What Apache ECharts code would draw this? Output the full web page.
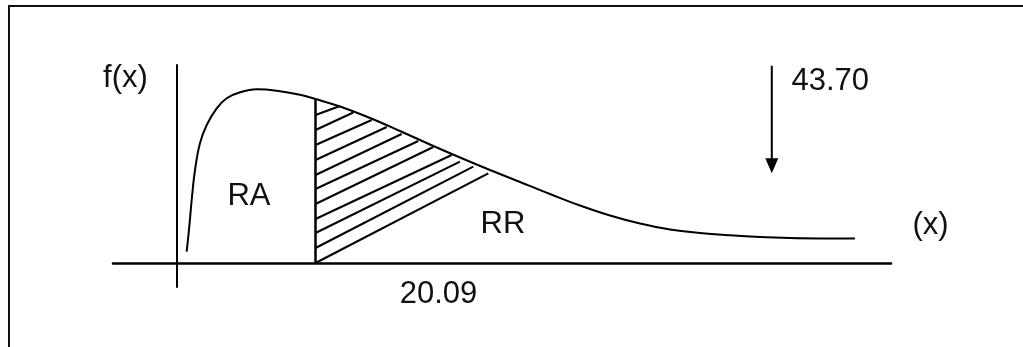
<!DOCTYPE html>
<html>
<head>
<meta charset="utf-8">
<script src="https://cdn.jsdelivr.net/npm/echarts@6/dist/echarts.min.js"></script>
<style>
  html, body { margin: 0; padding: 0; background: #fff; }
  #chart { width: 1023px; height: 347px; }
</style>
</head>
<body>
<div id="chart"></div>
<script>
// ---- Data (schematic chi-square density, x in chi-square units, y in arbitrary height units) ----
const curveX = [1.39, 1.77, 2.12, 2.60, 3.32, 4.30, 5.75, 7.20, 9.13, 11.55, 14.45, 17.83, 20.09,
                23.64, 28.00, 32.35, 36.70, 41.05, 45.41, 49.76, 54.11, 58.47, 62.82, 67.18,
                71.53, 75.88, 80.24, 84.59, 88.94, 93.30, 98.37];
const curveY = [11.3, 36.3, 63, 93, 119.7, 138, 154.7, 164.7, 170.7, 173.7, 172.3, 168.3, 164,
                156.5, 145, 132, 118.5, 105.5, 93, 81, 69, 57.5, 47.5, 39.5,
                33.5, 30, 27.7, 26, 25, 24.6, 24.5];

const criticalValue = 20.09;      // left edge of the shaded area
const criticalHeight = 164;       // f(x) at the critical value
const arrowValue = 86.3;          // position of the 43.70 arrow
const arrowTop = 197.3;
const arrowTip = 89.7;

// hatch lines: start on the critical line, end on/near the curve
const hatchStartY = [148, 133, 118, 103, 88, 74, 59, 44, 30, 15, 0];
const hatchEndX   = [23.64, 25.57, 28.24, 30.42, 32.59, 35.00, 37.18, 39.85, 41.05, 42.98, 45.16];
const hatchEndY   = [157, 150.5, 143, 136, 129, 122, 116, 108, 101.3, 96.3, 89.7];

const labelTexts = { fx: 'f(x)', x: '(x)', ra: 'RA', rr: 'RR', crit: '20.09', upper: '43.70' };

// ---- Build ----
const chart = echarts.init(document.getElementById('chart'), null, { renderer: 'canvas' });
const FONT = '31px "Liberation Sans", Arial, sans-serif';
const INK = '#000';

const curveData = curveX.map((x, i) => [x, curveY[i]]);
const hatchData = hatchStartY.map((y, i) => ({ coords: [[criticalValue, y], [hatchEndX[i], hatchEndY[i]]] }));
hatchData.push({ coords: [[criticalValue, 0], [criticalValue, criticalHeight]], lineStyle: { width: 2.5 } });

function txt(text, x, y, align) {
  return {
    type: 'text', x: x, y: y, silent: true,
    style: { text: text, font: FONT, fill: '#111', align: align || 'center', textAlign: align || 'center',
             verticalAlign: 'middle', textVerticalAlign: 'middle' }
  };
}

const option = {
  animation: false,
  backgroundColor: '#fff',
  grid: { left: 113, right: 132, top: 65, bottom: 60, containLabel: false },
  xAxis: {
    type: 'value', min: -9.3, max: 103.6,
    axisLine: { show: true, onZero: true, lineStyle: { color: INK, width: 2.5 } },
    axisTick: { show: false }, axisLabel: { show: false }, splitLine: { show: false }
  },
  yAxis: {
    type: 'value', min: -24, max: 198,
    axisLine: { show: true, onZero: true, lineStyle: { color: INK, width: 2 } },
    axisTick: { show: false }, axisLabel: { show: false }, splitLine: { show: false }
  },
  series: [
    {
      type: 'line', data: curveData, showSymbol: false, smooth: 0.4,
      lineStyle: { color: INK, width: 2 }, silent: true, z: 3
    },
    {
      type: 'lines', coordinateSystem: 'cartesian2d', polyline: false, data: hatchData,
      lineStyle: { color: INK, width: 2, opacity: 1 }, silent: true, z: 2
    },
    {
      type: 'custom', data: [[arrowValue, arrowTop, arrowTip]], silent: true, z: 4,
      renderItem: function (params, api) {
        const top = api.coord([api.value(0), api.value(1)]);
        const tip = api.coord([api.value(0), api.value(2)]);
        const headH = 15, headW = 13;
        return {
          type: 'group',
          children: [
            { type: 'line', shape: { x1: top[0], y1: top[1], x2: tip[0], y2: tip[1] - headH + 2 },
              style: { stroke: INK, lineWidth: 2 } },
            { type: 'polygon', shape: { points: [[tip[0] - headW / 2, tip[1] - headH], [tip[0] + headW / 2, tip[1] - headH], [tip[0], tip[1]]] },
              style: { fill: INK } }
          ]
        };
      }
    }
  ],
  graphic: [
    { type: 'rect', shape: { x: 9, y: 6, width: 1100, height: 400 }, style: { fill: 'none', stroke: '#111', lineWidth: 2 }, silent: true },
    txt(labelTexts.fx, 125.5, 78),
    txt(labelTexts.ra, 249, 196.5),
    txt(labelTexts.rr, 503, 224.5),
    txt(labelTexts.crit, 438.5, 294.5),
    txt(labelTexts.x, 930.5, 225),
    txt(labelTexts.upper, 791.5, 81.3, 'left')
  ]
};
chart.setOption(option);
</script>
</body>
</html>
